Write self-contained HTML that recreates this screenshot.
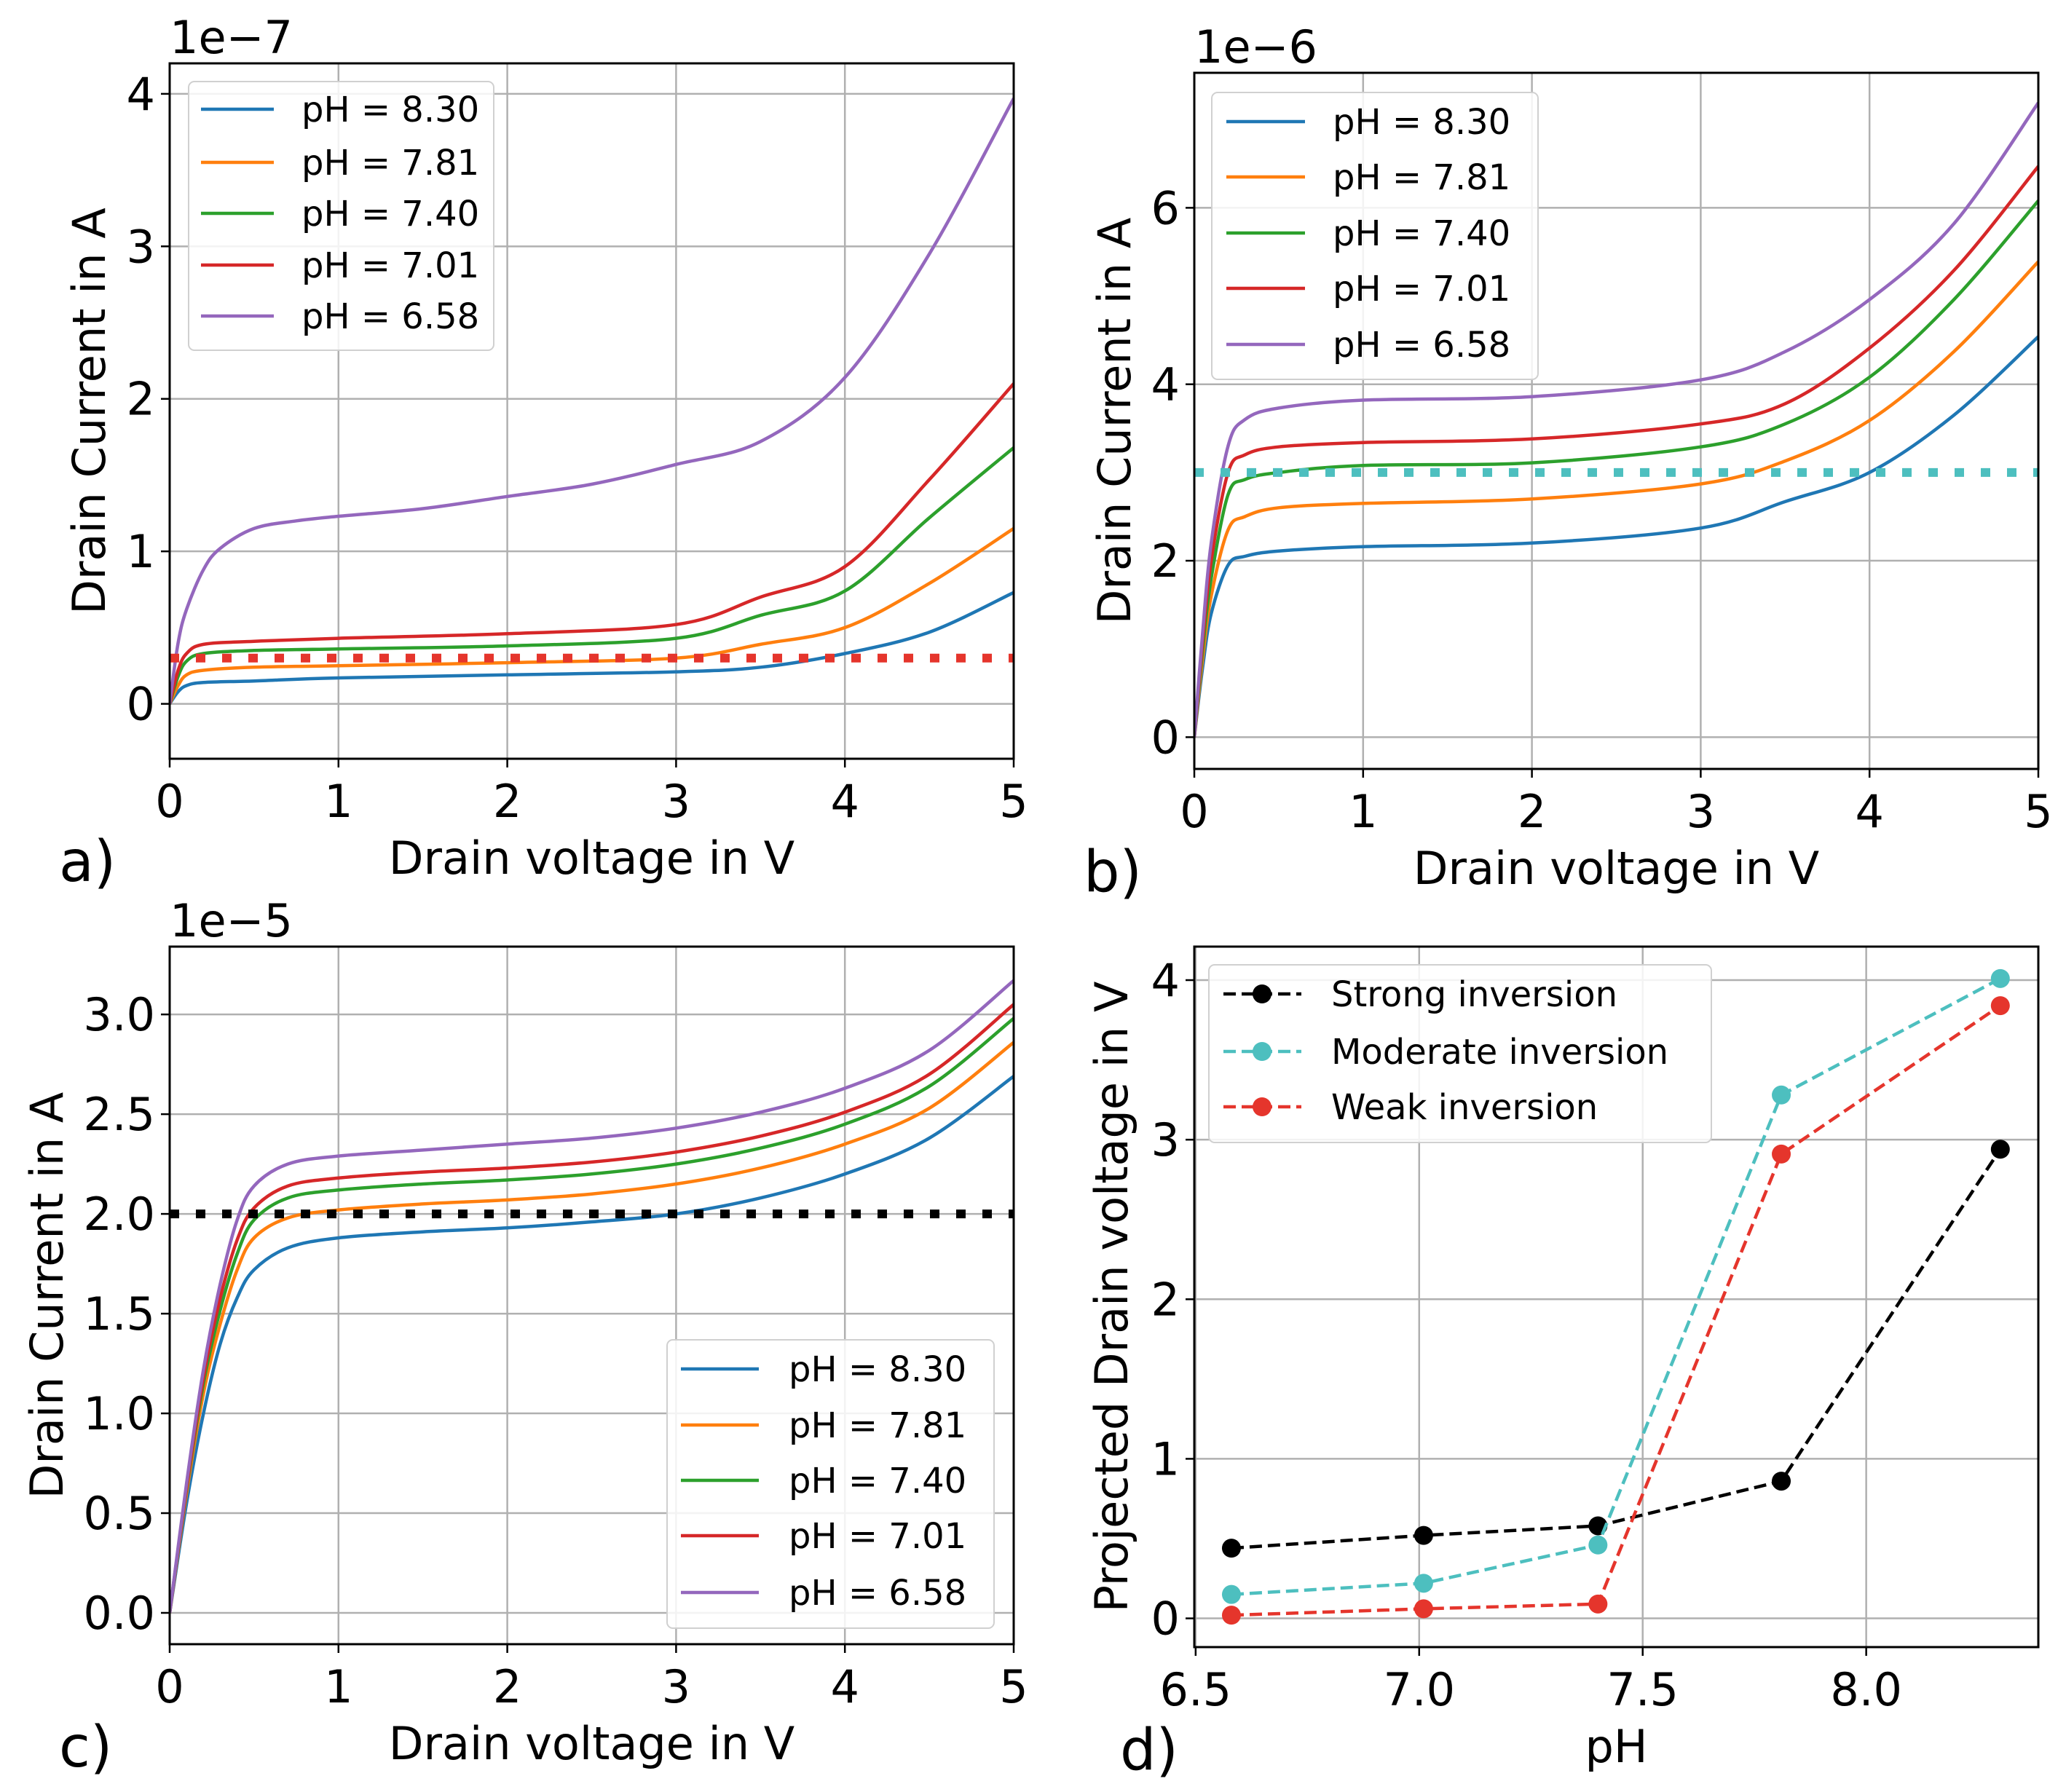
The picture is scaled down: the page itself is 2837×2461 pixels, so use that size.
<!DOCTYPE html>
<html><head><meta charset="utf-8">
<style>
html,body{margin:0;padding:0;background:#fff;}
svg{display:block;}
text{font-family:"DejaVu Sans","Liberation Sans",sans-serif;fill:#000;}
</style></head>
<body>
<svg id="fig" width="2837" height="2461" viewBox="0 0 2837 2461" xmlns="http://www.w3.org/2000/svg">
<rect x="0" y="0" width="2837" height="2461" fill="#fff"/>
</svg>
<script>
// ---- data ----
const phLabels = ["pH = 8.30","pH = 7.81","pH = 7.40","pH = 7.01","pH = 6.58"];
const curveColors = ["#1f77b4","#ff7f0e","#2ca02c","#d62728","#9467bd"];

// panel a (1e-7)
const aV = [0,0.05,0.1,0.2,0.5,1,2,3,3.5,4,4.5,5];
const aBlue   = [0,0.08,0.12,0.14,0.15,0.17,0.19,0.21,0.24,0.33,0.47,0.73];
const aOrange = [0,0.12,0.19,0.22,0.24,0.25,0.27,0.30,0.39,0.50,0.79,1.15];
const aGreen  = [0,0.18,0.28,0.33,0.35,0.36,0.38,0.43,0.58,0.74,1.22,1.68];
const aRed    = [0,0.22,0.33,0.39,0.41,0.43,0.46,0.52,0.70,0.90,1.47,2.10];
const aPV = [0,0.05,0.1,0.2,0.3,0.5,0.75,1,1.5,2,2.5,3,3.5,4,4.5,5];
const aPurple = [0,0.40,0.62,0.88,1.02,1.15,1.20,1.23,1.28,1.36,1.44,1.57,1.72,2.14,2.95,3.97];
const aThreshold = 0.3;
const aYTicks = [0,1,2,3,4];

// panel b (1e-6)
const bV = [0,0.05,0.1,0.2,0.3,0.5,1,2,3,3.5,4,4.5,5];
const bBlue   = [0,0.8,1.4,1.95,2.05,2.11,2.16,2.20,2.37,2.67,3.00,3.65,4.54];
const bOrange = [0,0.9,1.6,2.35,2.50,2.60,2.65,2.70,2.87,3.13,3.59,4.37,5.39];
const bGreen  = [0,1.0,1.8,2.75,2.92,3.00,3.08,3.11,3.29,3.55,4.08,4.96,6.08];
const bRed    = [0,1.1,2.0,3.00,3.20,3.29,3.34,3.38,3.55,3.78,4.41,5.29,6.47];
const bPurple = [0,1.2,2.2,3.30,3.60,3.73,3.82,3.86,4.05,4.37,4.96,5.82,7.19];
const bThreshold = 3.0;
const bYTicks = [0,2,4,6];

// panel c (1e-5)
const cV = [0,0.1,0.2,0.3,0.4,0.5,0.7,1,1.5,2,2.5,3,3.5,4,4.5,5];
const cBlue   = [0,0.55,1.00,1.35,1.58,1.72,1.83,1.88,1.91,1.93,1.96,2.00,2.08,2.20,2.38,2.69];
const cOrange = [0,0.60,1.10,1.45,1.72,1.88,1.98,2.02,2.05,2.07,2.10,2.15,2.23,2.35,2.53,2.86];
const cGreen  = [0,0.62,1.15,1.52,1.80,1.97,2.08,2.12,2.15,2.17,2.20,2.25,2.33,2.45,2.64,2.98];
const cRed    = [0,0.63,1.18,1.58,1.87,2.03,2.14,2.18,2.21,2.23,2.26,2.31,2.39,2.51,2.70,3.05];
const cPurple = [0,0.65,1.22,1.65,1.97,2.14,2.25,2.29,2.32,2.35,2.38,2.43,2.51,2.63,2.82,3.17];
const cThreshold = 2.0;
const cYTicks = [0,0.5,1.0,1.5,2.0,2.5,3.0];

// panel d
const dPH = [6.58,7.01,7.40,7.81,8.30];
const dStrong   = [0.44,0.52,0.58,0.86,2.94];
const dModerate = [0.15,0.22,0.46,3.28,4.01];
const dWeak     = [0.02,0.06,0.09,2.91,3.84];
const dSeriesNames = ["Strong inversion","Moderate inversion","Weak inversion"];
const dXTicks = [6.5,7.0,7.5,8.0];
const dYTicks = [0,1,2,3,4];
const vTicks = [0,1,2,3,4,5];

// ---- helpers ----
const NS="http://www.w3.org/2000/svg";
const svg=document.getElementById('fig');
const FS=62;
function mk(tag,attrs,parent){const e=document.createElementNS(NS,tag);for(const k in attrs)e.setAttribute(k,attrs[k]);(parent||svg).appendChild(e);return e;}
function lin(d0,d1,r0,r1){return v=>r0+(v-d0)/(d1-d0)*(r1-r0);}
function smoothPath(pts){
  let d="M"+pts[0][0].toFixed(1)+","+pts[0][1].toFixed(1);
  for(let i=0;i<pts.length-1;i++){
    const p0=pts[Math.max(0,i-1)],p1=pts[i],p2=pts[i+1],p3=pts[Math.min(pts.length-1,i+2)];
    const c1x=p1[0]+(p2[0]-p0[0])/6,c1y=p1[1]+(p2[1]-p0[1])/6;
    const c2x=p2[0]-(p3[0]-p1[0])/6,c2y=p2[1]-(p3[1]-p1[1])/6;
    d+=" C"+c1x.toFixed(1)+","+c1y.toFixed(1)+" "+c2x.toFixed(1)+","+c2y.toFixed(1)+" "+p2[0].toFixed(1)+","+p2[1].toFixed(1);
  }
  return d;
}
function fmt(v,dec){return dec?v.toFixed(1):String(v);}

function axesFrame(g,L,R,T,B,xs,ys,xt,yt,dec,xdec){
  const gr=mk('g',{},g);
  
  
  xt.forEach(v=>{const x=xs(v);mk('line',{x1:x,x2:x,y1:T,y2:B,stroke:'#b0b0b0','stroke-width':2.5},gr);});
  yt.forEach(v=>{const y=ys(v);mk('line',{x1:L,x2:R,y1:y,y2:y,stroke:'#b0b0b0','stroke-width':2.5},gr);});
  const xa=mk('g',{},g);
  
  
  xt.forEach(v=>{const x=xs(v);mk('line',{x1:x,x2:x,y1:B,y2:B+12,stroke:'#000','stroke-width':2.5},xa);
    const t=mk('text',{x:x,y:B+80,'font-size':FS,'text-anchor':'middle'},xa);t.textContent=fmt(v,xdec);});
  const ya=mk('g',{},g);
  
  
  yt.forEach(v=>{const y=ys(v);mk('line',{x1:L-12,x2:L,y1:y,y2:y,stroke:'#000','stroke-width':2.5},ya);
    const t=mk('text',{x:L-20,y:y+22,'font-size':FS,'text-anchor':'end'},ya);t.textContent=fmt(v,dec);});
}
function spine(g,L,R,T,B){const r=mk('rect',{x:L,y:T,width:R-L,height:B-T,fill:'none',stroke:'#000','stroke-width':3},g);
  }
function label(g,txt,x,y,size,name,rot){const t=mk('text',{x:x,y:y,'font-size':size,'text-anchor':'middle'},g);
  if(rot)t.setAttribute('transform','rotate(-90 '+x+' '+y+')');t.textContent=txt;
  return t;}

function ivPanel(id,L,R,T,B,yMin,yMax,yt,dec,seriesX,series,thr,thrColor,exp,legend,letter,ylabX){
  const g=mk('g',{});
  
  
  const xs=lin(0,5,L,R), ys=lin(yMin,yMax,B,T);
  axesFrame(g,L,R,T,B,xs,ys,vTicks,yt,dec,false);
  const clip=mk('clipPath',{id:'clip'+id},g);mk('rect',{x:L,y:T,width:R-L,height:B-T},clip);
  const lg=mk('g',{'clip-path':'url(#clip'+id+')'},g);
  series.forEach((s,i)=>{
    const pts=s.map((v,j)=>[xs(seriesX[i][j]),ys(v)]);
    const p=mk('path',{d:smoothPath(pts),fill:'none',stroke:curveColors[i],'stroke-width':4.5,'stroke-linejoin':'round'},lg);
    
    
  });
  const ty=ys(thr);
  const th=mk('line',{x1:xs(0),x2:xs(5),y1:ty,y2:ty,stroke:thrColor,'stroke-width':12,'stroke-dasharray':'13 23'},lg);
  
  
  spine(g,L,R,T,B);
  label(g,exp,L,T-14,FS,'offset-text').setAttribute('text-anchor','start');
  label(g,'Drain voltage in V',(L+R)/2,B+158,FS,'x-axis-title');
  label(g,'Drain Current in A',ylabX,(T+B)/2,FS,'y-axis-title',true);
  const lt=label(g,letter,L-152,B+168,78,'panel-label');lt.setAttribute('text-anchor','start');
  const lgd=mk('g',{},g);
  
  
  mk('rect',{x:legend.x0,y:legend.y0,width:legend.x1-legend.x0,height:legend.y1-legend.y0,rx:8,fill:'#fff','fill-opacity':0.85,stroke:'#d0d0d0','stroke-width':2},lgd);
  phLabels.forEach((lab,i)=>{
    const y=legend.ys[i];
    const e=mk('g',{},lgd);
    
    
    mk('line',{x1:legend.lx0,x2:legend.lx1,y1:y,y2:y,stroke:curveColors[i],'stroke-width':4.5},e);
    const t=mk('text',{x:legend.tx,y:y+17,'font-size':48},e);t.textContent=lab;
  });
}

ivPanel('a',233,1392,87,1042,-0.36,4.2,aYTicks,false,
  [aV,aV,aV,aV,aPV],[aBlue,aOrange,aGreen,aRed,aPurple],aThreshold,'#e5352c','1e\u22127',
  {x0:259,x1:678,y0:112,y1:481,ys:[150,223,293,364,434],lx0:276,lx1:376,tx:414},'a)',144);

ivPanel('b',1640,2799,100,1056,-0.36,7.53,bYTicks,false,
  [bV,bV,bV,bV,bV],[bBlue,bOrange,bGreen,bRed,bPurple],bThreshold,'#4dbfbf','1e\u22126',
  {x0:1664,x1:2112,y0:127,y1:521,ys:[167,243,320,396,473],lx0:1684,lx1:1792,tx:1830},'b)',1552);

ivPanel('c',233,1392,1300,2258,-0.157,3.34,cYTicks,true,
  [cV,cV,cV,cV,cV],[cBlue,cOrange,cGreen,cRed,cPurple],cThreshold,'#000','1e\u22125',
  {x0:916,x1:1365,y0:1840,y1:2236,ys:[1880,1957,2033,2109,2187],lx0:935,lx1:1042,tx:1083},'c)',86);

// panel d
(function(){
  const L=1640,R=2799,T=1300,B=2262;
  const g=mk('g',{});
  
  
  const xs=lin(6.497,8.385,L,R), ys=lin(-0.18,4.21,B,T);
  axesFrame(g,L,R,T,B,xs,ys,dXTicks,dYTicks,false,true);
  const cols=['#000','#4dbfbf','#e5352c'];
  const data=[dStrong,dModerate,dWeak];
  data.forEach((s,i)=>{
    const sg=mk('g',{},g);
    
    
    const pts=s.map((v,j)=>xs(dPH[j]).toFixed(1)+','+ys(v).toFixed(1)).join(' ');
    mk('polyline',{points:pts,fill:'none',stroke:cols[i],'stroke-width':4.5,'stroke-dasharray':'17 8'},sg);
    s.forEach((v,j)=>{const c=mk('circle',{cx:xs(dPH[j]),cy:ys(v),r:13,fill:cols[i]},sg);
      });
  });
  spine(g,L,R,T,B);
  label(g,'pH',(L+R)/2,B+158,FS,'x-axis-title');
  label(g,'Projected Drain voltage in V',1548,(T+B)/2,FS,'y-axis-title',true);
  const lt=label(g,'d)',L-102,B+168,78,'panel-label');lt.setAttribute('text-anchor','start');
  const lgd=mk('g',{},g);
  
  
  mk('rect',{x:1660,y:1325,width:690,height:244,rx:8,fill:'#fff','fill-opacity':0.85,stroke:'#d0d0d0','stroke-width':2},lgd);
  const ly=[1365,1444,1520];
  dSeriesNames.forEach((n,i)=>{
    const e=mk('g',{},lgd);
    
    
    mk('line',{x1:1680,x2:1787,y1:ly[i],y2:ly[i],stroke:cols[i],'stroke-width':4.5,'stroke-dasharray':'17 8'},e);
    mk('circle',{cx:1733,cy:ly[i],r:13,fill:cols[i]},e);
    const t=mk('text',{x:1828,y:ly[i]+17,'font-size':48},e);t.textContent=n;
  });
})();
</script>
</body></html>
